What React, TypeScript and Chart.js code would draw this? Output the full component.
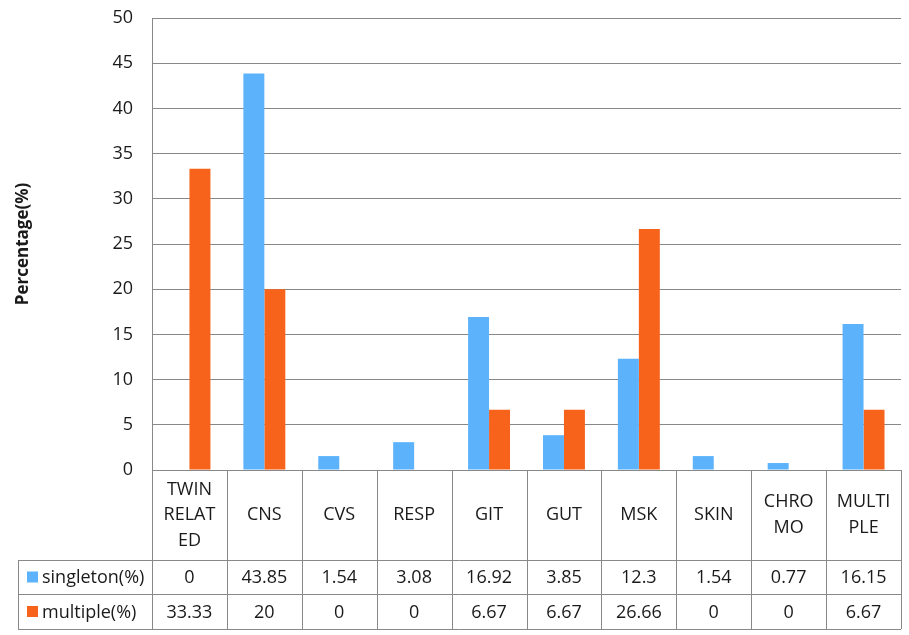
import React, { useEffect, useRef } from "react";
import { Chart, registerables } from "chart.js";

Chart.register(...registerables);

const categories: string[][] = [
  ["TWIN", "RELAT", "ED"],
  ["CNS"],
  ["CVS"],
  ["RESP"],
  ["GIT"],
  ["GUT"],
  ["MSK"],
  ["SKIN"],
  ["CHRO", "MO"],
  ["MULTI", "PLE"],
];
const singleton: number[] = [0, 43.85, 1.54, 3.08, 16.92, 3.85, 12.3, 1.54, 0.77, 16.15];
const multiple: number[] = [33.33, 20, 0, 0, 6.67, 6.67, 26.66, 0, 0, 6.67];
const seriesNames: string[] = ["singleton(%)", "multiple(%)"];
const seriesColors: string[] = ["#5CB3FB", "#F7631B"];
const yTicks: number[] = [0, 5, 10, 15, 20, 25, 30, 35, 40, 45, 50];

const FONT = "'Open Sans', 'Noto Sans', sans-serif";
const GRID = "#888888";
const TEXT = "#1a1a1a";

const tablePlugin = {
  id: "dataTable",
  afterDraw(chart: any) {
    const ctx = chart.ctx as CanvasRenderingContext2D;
    const { left, right, bottom } = chart.chartArea;
    const n = categories.length;
    const colW = (right - left) / n;
    const headerBottom = bottom + 90;
    const row1Bottom = headerBottom + 34;
    const row2Bottom = row1Bottom + 35;
    const tableLeft = 18;
    ctx.save();
    ctx.strokeStyle = GRID;
    ctx.lineWidth = 1;
    const hline = (y: number, x0: number, x1: number) => {
      ctx.beginPath();
      ctx.moveTo(x0, Math.round(y) + 0.5);
      ctx.lineTo(x1, Math.round(y) + 0.5);
      ctx.stroke();
    };
    const vline = (x: number, y0: number, y1: number) => {
      ctx.beginPath();
      ctx.moveTo(Math.round(x) + 0.5, y0);
      ctx.lineTo(Math.round(x) + 0.5, y1);
      ctx.stroke();
    };
    hline(bottom, left, right);
    hline(headerBottom, tableLeft, right);
    hline(row1Bottom, tableLeft, right);
    hline(row2Bottom, tableLeft, right);
    for (let i = 0; i <= n; i++) {
      vline(left + i * colW, bottom, row2Bottom);
    }
    vline(tableLeft, headerBottom, row2Bottom);

    ctx.fillStyle = TEXT;
    ctx.font = `18px ${FONT}`;
    ctx.textAlign = "center";
    ctx.textBaseline = "middle";
    const lineH = 25.5;
    const xScale = chart.scales.x;
    const headerMid = (bottom + headerBottom) / 2;
    categories.forEach((lines, i) => {
      const cx = xScale.getPixelForValue(i);
      const startY = headerMid - ((lines.length - 1) * lineH) / 2;
      lines.forEach((t, j) => ctx.fillText(t, cx, startY + j * lineH));
    });
    const rows = [singleton, multiple];
    const rowMids = [(headerBottom + row1Bottom) / 2, (row1Bottom + row2Bottom) / 2];
    rows.forEach((vals, r) => {
      vals.forEach((v, i) => {
        const cx = xScale.getPixelForValue(i);
        ctx.fillText(String(v), cx, rowMids[r] + 1);
      });
      ctx.fillStyle = seriesColors[r];
      ctx.fillRect(27, rowMids[r] - 5.5, 11, 11);
      ctx.fillStyle = TEXT;
      ctx.textAlign = "left";
      ctx.fillText(seriesNames[r], 42, rowMids[r] + 1);
      ctx.textAlign = "center";
    });
    ctx.restore();
  },
};

export default function App() {
  const canvasRef = useRef<HTMLCanvasElement | null>(null);

  useEffect(() => {
    document.body.style.margin = "0";
    const canvas = canvasRef.current;
    if (!canvas) return;
    const chart = new Chart(canvas, {
      type: "bar",
      data: {
        labels: categories.map((c) => c.join("")),
        datasets: [
          {
            label: seriesNames[0],
            data: singleton,
            backgroundColor: seriesColors[0],
            categoryPercentage: 0.56,
            barPercentage: 1,
          },
          {
            label: seriesNames[1],
            data: multiple,
            backgroundColor: seriesColors[1],
            categoryPercentage: 0.56,
            barPercentage: 1,
          },
        ],
      },
      options: {
        animation: false,
        responsive: true,
        maintainAspectRatio: false,
        layout: { padding: { left: 0, top: 18, right: 8, bottom: 165 } },
        plugins: {
          legend: { display: false },
          tooltip: { enabled: false },
        },
        scales: {
          x: { display: false },
          y: {
            min: 0,
            max: 50,
            afterBuildTicks: (scale: any) => {
              scale.ticks = yTicks.map((v) => ({ value: v }));
            },
            afterFit: (scale: any) => {
              scale.width = 152;
              scale.paddingTop = 0;
              scale.paddingBottom = 0;
            },
            grid: { color: GRID, drawTicks: false, lineWidth: 1 },
            border: { color: GRID },
            ticks: {
              padding: 19,
              color: TEXT,
              font: { family: FONT, size: 18 },
            },
            title: {
              display: true,
              text: "Percentage(%)",
              color: TEXT,
              font: { family: FONT, size: 17, weight: "bold" },
              padding: { top: 13, bottom: 0 },
            },
          },
        },
      },
      plugins: [tablePlugin],
    });
    return () => chart.destroy();
  }, []);

  return (
    <div style={{ position: "fixed", left: 0, top: 0, width: 909, height: 635, background: "#fff" }}>
      <canvas ref={canvasRef} />
    </div>
  );
}
